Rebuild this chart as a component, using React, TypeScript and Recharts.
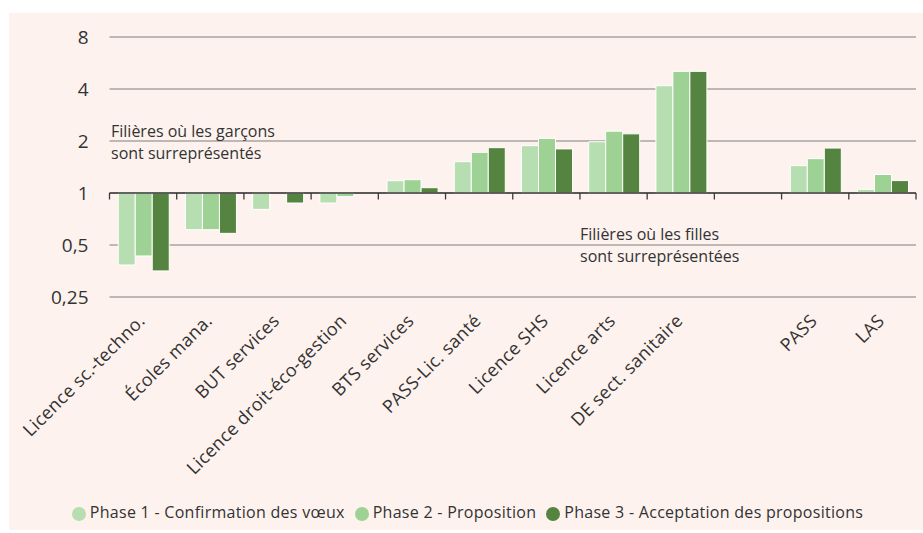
import React from "react";
import {
  BarChart,
  Bar,
  XAxis,
  YAxis,
  CartesianGrid,
  ReferenceLine,
  Legend,
} from "recharts";

const categories = [
  "Licence sc.-techno.",
  "Écoles mana.",
  "BUT services",
  "Licence droit-éco-gestion",
  "BTS services",
  "PASS-Lic. santé",
  "Licence SHS",
  "Licence arts",
  "DE sect. sanitaire",
  "",
  "PASS",
  "LAS",
];

const phase1 = [0.383, 0.613, 0.804, 0.875, 1.178, 1.518, 1.88, 1.98, 4.18, null, 1.44, 1.05];
const phase2 = [0.432, 0.613, 1, 0.952, 1.194, 1.72, 2.07, 2.28, 5.06, null, 1.58, 1.28];
const phase3 = [0.354, 0.584, 0.875, 1, 1.073, 1.83, 1.8, 2.2, 5.06, null, 1.82, 1.18];

const seriesNames = [
  "Phase 1 - Confirmation des vœux",
  "Phase 2 - Proposition",
  "Phase 3 - Acceptation des propositions",
];

const yTickValues = [0.25, 0.5, 1, 2, 4, 8];

const COLORS = ["#b7deb0", "#9dd294", "#54843f"];
const TEXT = "#333333";
const FONT = "'Open Sans', sans-serif";

const lg = (v: number | null) => (v == null ? null : Math.log2(v));
const keyOf = (c: string) => (c === "" ? " " : c);

const data = categories.map((c, i) => ({
  cat: keyOf(c),
  p1: lg(phase1[i]),
  p2: lg(phase2[i]),
  p3: lg(phase3[i]),
}));

const yTicks = yTickValues.map((v) => Math.log2(v));
const TICK_LEN = 0.125;

const XTick = (props: any) => {
  const { x, y, payload } = props;
  const label = String(payload.value).trim();
  if (!label) return null;
  return (
    <g transform={`translate(${x + 3},${y + 25})`}>
      <text
        x={0}
        y={0}
        textAnchor="end"
        transform="rotate(-45)"
        fontSize={18}
        letterSpacing={0.3}
        fill={TEXT}
        fontFamily={FONT}
      >
        {label}
      </text>
    </g>
  );
};

export default function App() {
  return (
    <div
      style={{
        position: "absolute",
        left: 9,
        top: 13,
        width: 914,
        height: 517,
        background: "#fdf2ee",
        fontFamily: FONT,
      }}
    >
      <BarChart
        width={914}
        height={517}
        data={data}
        margin={{ top: 24, right: 7, bottom: 7, left: 0 }}
        barCategoryGap="13%"
        barGap={0}
      >
        <CartesianGrid horizontal vertical={false} stroke="#a8a4a2" strokeWidth={1.3} />
        <XAxis
          dataKey="cat"
          interval={0}
          axisLine={false}
          tickLine={false}
          tickSize={0}
          tickMargin={0}
          height={204}
          tick={<XTick />}
        />
        <YAxis
          type="number"
          domain={[-2, 3]}
          ticks={yTicks}
          allowDataOverflow
          width={100.5}
          axisLine={false}
          tickLine={false}
          tickSize={0}
          tickMargin={21}
          tick={{ fontSize: 19, fill: TEXT, fontFamily: FONT }}
          tickFormatter={(v: number) => String(Math.round(Math.pow(2, v) * 100) / 100).replace(".", ",")}
        />
        <Legend
          verticalAlign="bottom"
          align="center"
          iconType="circle"
          iconSize={14}
          wrapperStyle={{
            fontSize: 16,
            fontFamily: FONT,
            letterSpacing: "0.28px",
            paddingLeft: 20,
            boxSizing: "border-box",
          }}
          formatter={(value: string) => <span style={{ color: TEXT }}>{value}</span>}
        />
        <Bar dataKey="p1" name={seriesNames[0]} fill={COLORS[0]} stroke="#ffffff" strokeWidth={1} isAnimationActive={false} />
        <Bar dataKey="p2" name={seriesNames[1]} fill={COLORS[1]} stroke="#ffffff" strokeWidth={1} isAnimationActive={false} />
        <Bar dataKey="p3" name={seriesNames[2]} fill={COLORS[2]} stroke="#ffffff" strokeWidth={1} isAnimationActive={false} />
        <ReferenceLine y={0} stroke="#3a3a3a" strokeWidth={1.5} />
        {data.map((d) => (
          <ReferenceLine
            key={"t" + d.cat}
            position="start"
            segment={[
              { x: d.cat, y: 0 },
              { x: d.cat, y: -TICK_LEN },
            ]}
            stroke="#3a3a3a"
            strokeWidth={1.3}
          />
        ))}
        <ReferenceLine
          position="end"
          segment={[
            { x: data[data.length - 1].cat, y: 0 },
            { x: data[data.length - 1].cat, y: -TICK_LEN },
          ]}
          stroke="#3a3a3a"
          strokeWidth={1.3}
        />
      </BarChart>
      <div
        style={{
          position: "absolute",
          left: 102,
          top: 107,
          fontSize: 16,
          lineHeight: "22px",
          color: TEXT,
          whiteSpace: "nowrap",
        }}
      >
        Filières où les garçons
        <br />
        sont surreprésentés
      </div>
      <div
        style={{
          position: "absolute",
          left: 571,
          top: 210,
          fontSize: 16,
          lineHeight: "22px",
          color: TEXT,
          whiteSpace: "nowrap",
        }}
      >
        Filières où les filles
        <br />
        sont surreprésentées
      </div>
    </div>
  );
}
